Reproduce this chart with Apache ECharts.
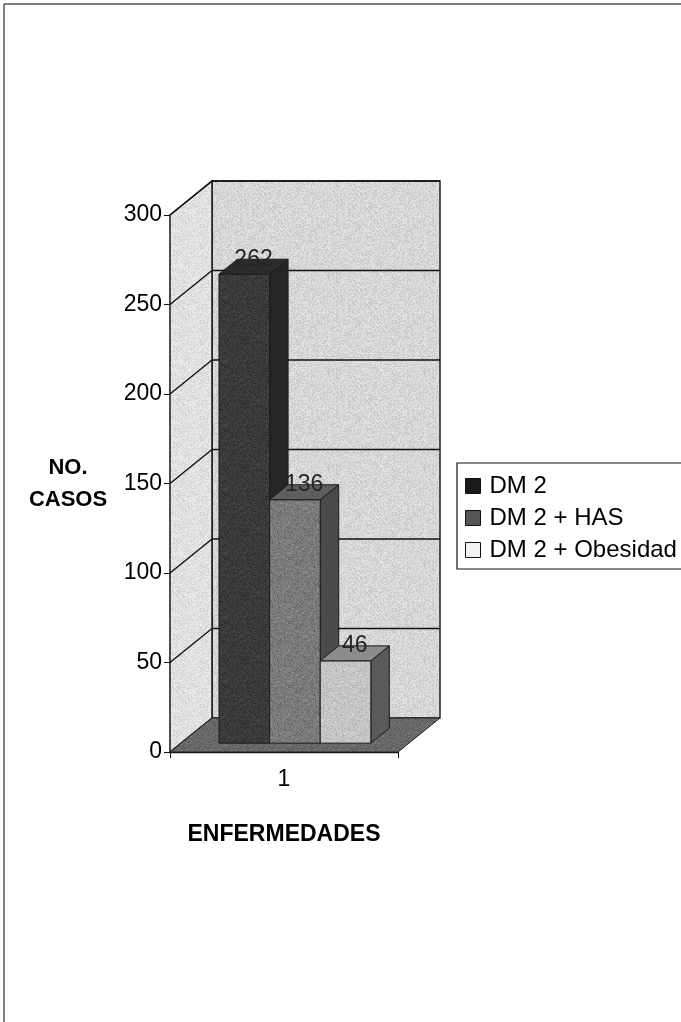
<!DOCTYPE html>
<html>
<head>
<meta charset="utf-8">
<title>Enfermedades</title>
<script src="https://cdn.jsdelivr.net/npm/echarts@6/dist/echarts.min.js"></script>
<style>
  html, body { margin: 0; padding: 0; background: #fff; }
  #chart { width: 681px; height: 1022px; }
</style>
</head>
<body>
<div id="chart"></div>
<script>
// Data
const categories = ['1'];
const seriesNames = ['DM 2', 'DM 2 + HAS', 'DM 2 + Obesidad'];
const seriesValues = [262, 136, 46];
const yTicks = [0, 50, 100, 150, 200, 250, 300];

// Oblique projection of the depth axis (pixels for full depth)
const DEPTH = [42, -34];
const BAR_FRONT = 0.26;   // fraction of depth where bar fronts sit
const BAR_BACK = 0.70;    // fraction of depth where bar backs sit
const BAR_START = 0.167;  // offset of first bar within the category band
const BAR_WIDTH = 0.222;  // width of each bar as a fraction of the band

// Printed-paper grain: a small tile of speckles laid over a base tone
function grain(base, spread, size) {
  const cv = document.createElement('canvas');
  cv.width = cv.height = size;
  const ctx = cv.getContext('2d');
  const img = ctx.createImageData(size, size);
  let h = 2166136261;
  for (let i = 0; i < size * size; i++) {
    h ^= i; h = Math.imul(h, 16777619); h ^= h >>> 13;
    const n = ((h >>> 0) % 1000) / 1000 - 0.5;
    const v = Math.max(0, Math.min(255, base + n * spread));
    img.data[i * 4] = img.data[i * 4 + 1] = img.data[i * 4 + 2] = v;
    img.data[i * 4 + 3] = 255;
  }
  ctx.putImageData(img, 0, 0);
  return { image: cv, repeat: 'repeat' };
}

const faceColors = [
  { front: grain(58, 26, 64), top: '#2c2c2c', side: '#262626', legend: '#1a1a1a' },
  { front: grain(122, 40, 64), top: '#5e5e5e', side: '#4a4a4a', legend: '#555555' },
  { front: grain(196, 36, 64), top: '#8c8c8c', side: '#5a5a5a', legend: '#f2f2f2' }
];
const backWallFill = grain(214, 36, 96);
const leftWallFill = grain(224, 30, 96);
const floorFill = grain(104, 30, 64);

const chart = echarts.init(document.getElementById('chart'), null, { renderer: 'canvas' });

function pt(x, y, t) {
  return [x + DEPTH[0] * t, y + DEPTH[1] * t];
}

// Walls, floor and gridlines of the 3D box
function renderWalls(params, api) {
  const c0 = api.coord([0, 0]);
  const bw = api.size([1, 0])[0];
  const L = c0[0] - bw / 2;
  const R = c0[0] + bw / 2;
  const y0 = c0[1];
  const yMax = api.coord([0, yTicks[yTicks.length - 1]])[1];
  const dx = DEPTH[0], dy = DEPTH[1];
  const children = [];
  const lineStyle = { stroke: '#111', lineWidth: 1.4 };

  children.push({
    type: 'polygon',
    shape: { points: [[L + dx, y0 + dy], [R + dx, y0 + dy], [R + dx, yMax + dy], [L + dx, yMax + dy]] },
    style: { fill: backWallFill, stroke: '#111', lineWidth: 1.4 }
  });
  children.push({
    type: 'polygon',
    shape: { points: [[L, y0], [L + dx, y0 + dy], [L + dx, yMax + dy], [L, yMax]] },
    style: { fill: leftWallFill, stroke: '#111', lineWidth: 1.4 }
  });
  children.push({
    type: 'polygon',
    shape: { points: [[L, y0], [R, y0], [R + dx, y0 + dy], [L + dx, y0 + dy]] },
    style: { fill: floorFill, stroke: '#222', lineWidth: 1 }
  });
  yTicks.forEach(function (v) {
    if (v === 0) return;
    const y = api.coord([0, v])[1];
    children.push({ type: 'line', shape: { x1: L, y1: y, x2: L + dx, y2: y + dy }, style: lineStyle });
    children.push({ type: 'line', shape: { x1: L + dx, y1: y + dy, x2: R + dx, y2: y + dy }, style: lineStyle });
  });
  return { type: 'group', children: children };
}

// One 3D prism per series
function makeBarRenderer(idx) {
  return function (params, api) {
    const cat = api.value(0);
    const val = api.value(1);
    const base = api.coord([cat, 0]);
    const top = api.coord([cat, val]);
    const bw = api.size([1, 0])[0];
    const L = base[0] - bw / 2;
    const x0 = L + bw * (BAR_START + idx * BAR_WIDTH);
    const x1 = x0 + bw * BAR_WIDTH;
    const yb = base[1], yt = top[1];
    const c = faceColors[idx];
    const edge = { stroke: '#1a1a1a', lineWidth: 1 };
    const fA = pt(x0, yt, BAR_FRONT), fB = pt(x1, yt, BAR_FRONT);
    const fC = pt(x1, yb, BAR_FRONT), fD = pt(x0, yb, BAR_FRONT);
    const bA = pt(x0, yt, BAR_BACK), bB = pt(x1, yt, BAR_BACK), bC = pt(x1, yb, BAR_BACK);
    const labelPos = pt((x0 + x1) / 2, yt, BAR_BACK);
    labelPos[0] -= DEPTH[0] * (BAR_BACK - BAR_FRONT) / 2;
    return {
      type: 'group',
      children: [
        { type: 'polygon', shape: { points: [fB, bB, bC, fC] }, style: Object.assign({ fill: c.side }, edge) },
        { type: 'polygon', shape: { points: [fA, fB, fC, fD] }, style: Object.assign({ fill: c.front }, edge) },
        { type: 'polygon', shape: { points: [fA, fB, bB, bA] }, style: Object.assign({ fill: c.top }, edge) },
        {
          type: 'text',
          x: labelPos[0], y: labelPos[1],
          style: {
            text: String(val), fill: '#262626',
            font: '23px "Liberation Sans", Arial, sans-serif',
            align: 'center', verticalAlign: 'middle'
          }
        }
      ]
    };
  };
}

const series = [{
  type: 'custom',
  name: 'walls',
  renderItem: renderWalls,
  data: [[0, 0]],
  silent: true,
  z: 1
}];
seriesNames.forEach(function (name, i) {
  series.push({
    type: 'custom',
    name: name,
    renderItem: makeBarRenderer(i),
    data: [[0, seriesValues[i]]],
    itemStyle: { color: faceColors[i].legend },
    z: 2
  });
});

const font = '"Liberation Sans", Arial, sans-serif';

chart.setOption({
  animation: false,
  backgroundColor: '#ffffff',
  grid: { left: 170, top: 215, width: 228, height: 537 },
  xAxis: {
    type: 'category',
    data: categories,
    boundaryGap: true,
    axisLine: { show: true, lineStyle: { color: '#111', width: 1.4 } },
    axisTick: { show: true, length: 6, lineStyle: { color: '#111' } },
    axisLabel: { fontSize: 23, color: '#000', margin: 16, fontFamily: font },
    name: 'ENFERMEDADES',
    nameLocation: 'middle',
    nameGap: 71,
    nameTextStyle: { fontSize: 23, fontWeight: 'bold', color: '#000', fontFamily: font },
    splitLine: { show: false }
  },
  yAxis: {
    type: 'value',
    min: 0, max: 300, interval: 50,
    axisLine: { show: true, lineStyle: { color: '#111', width: 1.4 } },
    axisTick: { show: true, length: 6, lineStyle: { color: '#111' } },
    axisLabel: { fontSize: 23, color: '#000', margin: 8, fontFamily: font },
    splitLine: { show: false },
    name: 'NO.\nCASOS',
    nameLocation: 'middle',
    nameRotate: 0,
    nameGap: 102,
    nameTextStyle: { fontSize: 22, fontWeight: 'bold', color: '#000', fontFamily: font, align: 'center', lineHeight: 32 }
  },
  legend: {
    data: seriesNames,
    orient: 'vertical',
    left: 457, top: 463,
    padding: [11, 20, 7, 8],
    itemWidth: 15, itemHeight: 15, itemGap: 8,
    borderColor: '#111', borderWidth: 1.2,
    icon: 'rect',
    itemStyle: { borderColor: '#111', borderWidth: 1 },
    textStyle: { fontSize: 24, color: '#000', fontFamily: font, padding: [0, 0, 0, 4] },
    selectedMode: false
  },
  graphic: [
    { type: 'line', shape: { x1: 4, y1: 4, x2: 681, y2: 4 }, style: { stroke: '#555', lineWidth: 1.5 } },
    { type: 'line', shape: { x1: 4, y1: 4, x2: 4, y2: 1022 }, style: { stroke: '#555', lineWidth: 1.5 } }
  ],
  series: series
});
</script>
</body>
</html>
